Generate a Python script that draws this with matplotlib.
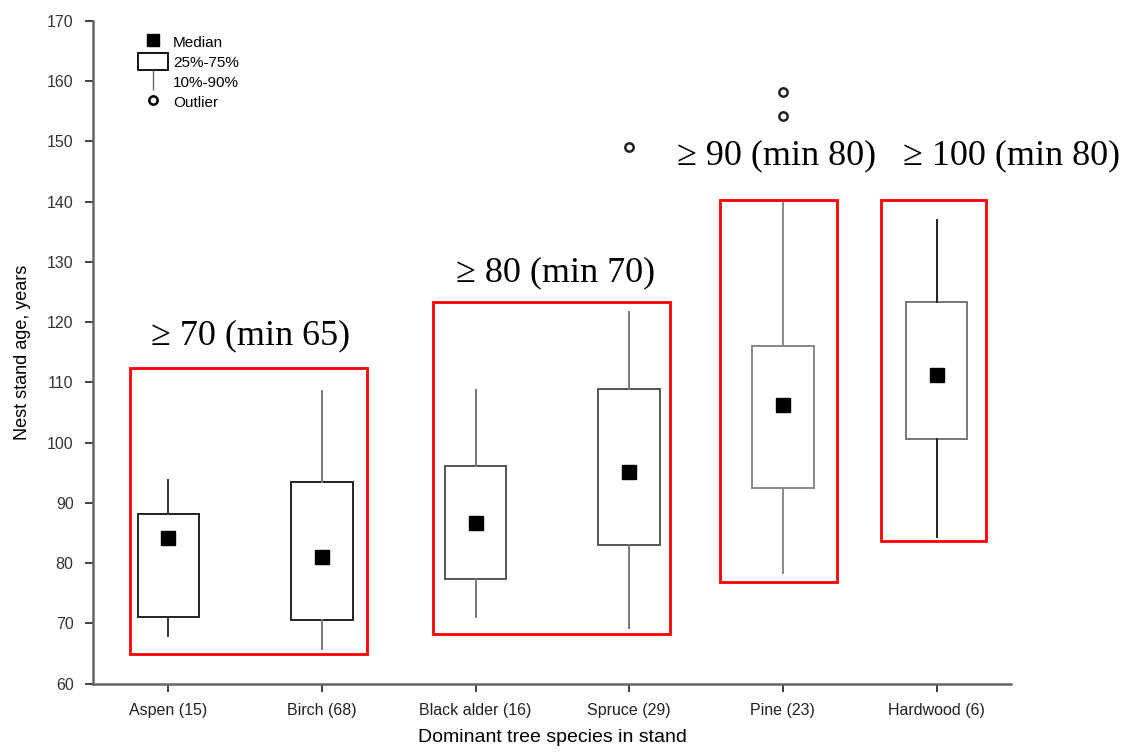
import matplotlib.pyplot as plt
from matplotlib.lines import Line2D
from matplotlib.patches import Patch, Rectangle

# data
species = ['Aspen (15)', 'Birch (68)', 'Black alder (16)', 'Spruce (29)', 'Pine (23)', 'Hardwood (6)']
medians = [84.2, 81.1, 86.7, 95.2, 106.3, 111.2]
q25 = [71.1, 70.6, 77.4, 83.0, 92.5, 100.6]
q75 = [88.1, 93.5, 96.1, 108.9, 116.0, 123.4]
p10 = [67.9, 65.8, 71.1, 69.2, 78.3, 84.3]
p90 = [93.8, 108.6, 108.7, 121.7, 139.9, 136.9]
outliers = [[], [], [], [149.1], [154.2, 158.1], []]
whisker_col = ['#333333', '#777777', '#777777', '#777777', '#888888', '#222222']
box_col = ['#222222', '#222222', '#555555', '#555555', '#888888', '#777777']

# red groups: (x0, x1, y0, y1) and label
groups = [(-0.25, 1.295, 64.9, 112.4), (1.72, 3.265, 68.3, 123.3),
          (3.59, 4.35, 76.9, 140.2), (4.64, 5.325, 83.6, 140.2)]
group_labels = ['≥ 70 (min 65)', '≥ 80 (min 70)', '≥ 90 (min 80)', '≥ 100 (min 80)']
label_pos = [(0.537, 117.8), (2.52, 128.2), (3.96, 147.6), (5.49, 147.6)]

plt.rcParams['font.family'] = ['Liberation Sans Narrow', 'Liberation Sans', 'DejaVu Sans']

fig = plt.figure(figsize=(11.28, 7.53), dpi=100)
ax = fig.add_axes([0.0824, 0.092, 0.8139, 0.8805])

pos = list(range(len(species)))
stats = []
for i in pos:
    stats.append(dict(med=medians[i], q1=q25[i], q3=q75[i], whislo=p10[i], whishi=p90[i], fliers=outliers[i]))

for i in pos:
    ax.bxp([stats[i]], positions=[i], widths=0.4, patch_artist=True, showcaps=False,
           boxprops=dict(facecolor='white', edgecolor=box_col[i], linewidth=1.4),
           whiskerprops=dict(color=whisker_col[i], linewidth=1.4),
           medianprops=dict(linestyle='none'),
           flierprops=dict(marker='o', markersize=6, markerfacecolor='white',
                           markeredgecolor='#222222', markeredgewidth=1.8))

ax.plot(pos, medians, 's', color='black', markersize=10, zorder=5)

for (x0, x1, y0, y1) in groups:
    ax.add_patch(Rectangle((x0, y0), x1 - x0, y1 - y0, fill=False, edgecolor='red',
                           linewidth=2, clip_on=False, zorder=6))
for (x, y), t in zip(label_pos, group_labels):
    ax.text(x, y, t, ha='center', va='center', fontsize=26, family='Liberation Serif', clip_on=False)

ax.set_xlim(-0.49, 5.485)
ax.set_ylim(60, 170)
ax.set_yticks(range(60, 171, 10))
ax.set_xticks(pos)
ax.set_xticklabels(species, fontsize=11.5, color='#222222')
ax.tick_params(axis='y', labelsize=11.5, labelcolor='#333333')
ax.tick_params(direction='out', length=6, width=1.3, color='#333333', pad=8)
for s in ['top', 'right']:
    ax.spines[s].set_visible(False)
for s in ['left', 'bottom']:
    ax.spines[s].set_color('#666666')
    ax.spines[s].set_linewidth(1.8)
ax.set_xlabel('Dominant tree species in stand', fontsize=14, labelpad=8)
ax.set_ylabel('Nest stand age, years', fontsize=13, labelpad=11)

handles = [Line2D([], [], marker='s', color='black', linestyle='none', markersize=9),
           Patch(facecolor='white', edgecolor='black', linewidth=1.3),
           Line2D([], [], marker='|', color='#666666', linestyle='none', markersize=15),
           Line2D([], [], marker='o', markerfacecolor='white', markeredgecolor='black',
                  markeredgewidth=1.8, linestyle='none', markersize=6)]
ax.legend(handles, ['Median', '25%-75%', '10%-90%', 'Outlier'], loc='upper left',
          bbox_to_anchor=(0.042, 0.99), frameon=False, fontsize=11,
          handlelength=2.0, handleheight=1.3, labelspacing=0.22, handletextpad=0.3,
          borderaxespad=0)

fig.savefig('out.png', dpi=100)
